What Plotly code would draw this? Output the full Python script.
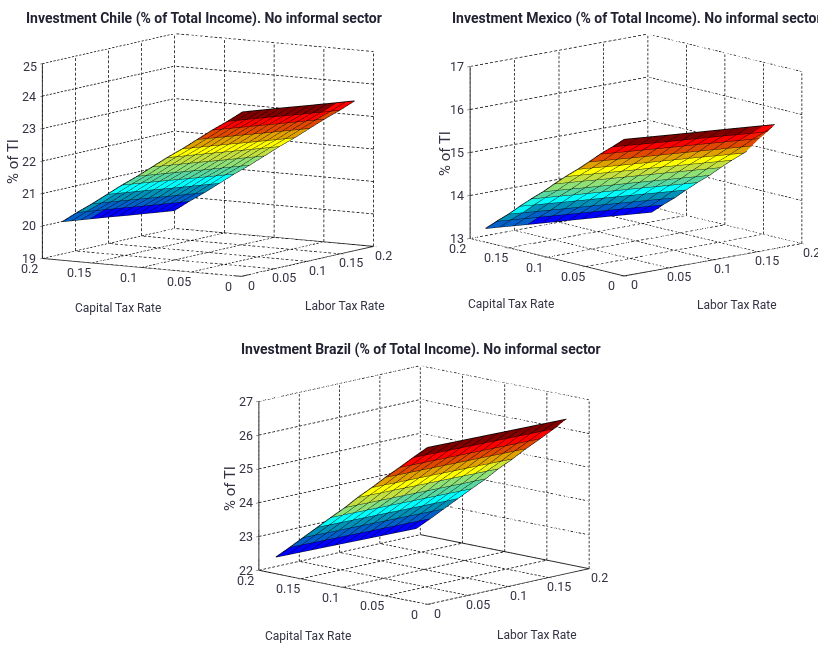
import plotly.graph_objects as go

# tick labels
tax_ticks = [0, 0.05, 0.1, 0.15, 0.2]
chile_z_ticks = [19, 20, 21, 22, 23, 24, 25]
mexico_z_ticks = [13, 14, 15, 16, 17]
brazil_z_ticks = [22, 23, 24, 25, 26, 27]

# Surface corner (labor, capital, % of TI)
chile_origin = [0.0, 0.18, 20.19]
mexico_origin = [0.0, 0.18, 13.32]
brazil_origin = [0.0, 0.18, 22.49]

# Offsets along the mesh rows
chile_labor_along = [0, .011, .022, .033, .044, .055, .066, .077, .088, .099, .11, .121, .132]
chile_capital_along = [0, -.002, -.004, -.006, -.008, -.01, -.0125, -.015, -.017, -.019, -.021, -.023, -.025]
chile_z_along = [0, -.017, -.033, -.05, -.067, -.083, -.1, -.117, -.133, -.15, -.167, -.183, -.2]
mexico_labor_along = [0, .014, .028, .042, .056, .07, .084, .097, .111, .125, .139, .153, .167]
mexico_capital_along = [0, -.002, -.004, -.006, -.008, -.01, -.0115, -.013, -.015, -.017, -.019, -.021, -.023]
mexico_z_along = [0, -.012, -.025, -.038, -.05, -.062, -.075, -.088, -.1, -.112, -.125, -.138, -.15]
brazil_labor_along = [0, .0145, .029, .0435, .058, .0725, .087, .1015, .116, .1305, .145, .1595, .174]
brazil_capital_along = [0, 0, 0, 0, 0, 0, 0, 0, 0, 0, 0, 0, 0]
brazil_z_along = [0, -.006, -.012, -.018, -.023, -.029, -.035, -.041, -.047, -.052, -.058, -.064, -.07]

# Offsets up the mesh columns
chile_labor_up = [0, .006, .011, .017, .023, .028, .034, .04, .045, .051, .057, .062, .068]
chile_capital_up = [0, -.011, -.023, -.034, -.045, -.057, -.068, -.079, -.091, -.102, -.113, -.125, -.136]
chile_z_up = [0, .29, .57, .86, 1.15, 1.43, 1.72, 2.01, 2.29, 2.58, 2.87, 3.15, 3.44]
mexico_labor_up = [0, .004, .008, .012, .016, .02, .024, .028, .032, .036, .04, .044, .0485]
mexico_capital_up = [0, -.01, -.021, -.031, -.041, -.052, -.062, -.072, -.083, -.093, -.103, -.114, -.124]
mexico_z_up = [0, .2, .4, .61, .81, 1.01, 1.22, 1.42, 1.62, 1.82, 2.03, 2.23, 2.43]
brazil_labor_up = [0, .003, .005, .008, .01, .013, .015, .018, .02, .023, .025, .028]
brazil_capital_up = [0, -.014, -.028, -.042, -.056, -.07, -.083, -.097, -.111, -.125, -.139, -.153]
brazil_z_up = [0, .35, .7, 1.06, 1.41, 1.76, 2.11, 2.46, 2.82, 3.17, 3.52, 3.87]

band_colors = ["#0000ff", "#0060c8", "#0090b8", "#00ffff", "#58d8a0", "#90e078",
               "#c4e040", "#ffff00", "#e0a000", "#e04800", "#ff0000", "#800000"]
FONT = "Roboto"
TEXT = "#333344"


def dashed(p0, p1, n):
    """Split one grid line into n short dashes so the dash length stays even on screen."""
    xs, ys, zs = [], [], []
    for i in range(n):
        a, b = i / n, (i + 0.6) / n
        for f in (a, b):
            xs.append(p0[0] + (p1[0] - p0[0]) * f)
            ys.append(p0[1] + (p1[1] - p0[1]) * f)
            zs.append(p0[2] + (p1[2] - p0[2]) * f)
        xs.append(None); ys.append(None); zs.append(None)
    return xs, ys, zs


def panel(fig, scene, origin, along, up, z_ticks):
    lab_a, cap_a, z_a = along
    lab_u, cap_u, z_u = up
    nr, nc = len(lab_u), len(lab_a)
    X = [[origin[0] + lab_u[r] + lab_a[c] for c in range(nc)] for r in range(nr)]
    Y = [[origin[1] + cap_u[r] + cap_a[c] for c in range(nc)] for r in range(nr)]
    Z = [[origin[2] + z_u[r] + z_a[c] for c in range(nc)] for r in range(nr)]
    vx = [v for row in X for v in row]
    vy = [v for row in Y for v in row]
    vz = [v for row in Z for v in row]
    zmin_s, zmax_s = min(vz), max(vz)
    I, J, K, C = [], [], [], []
    for r in range(nr - 1):
        for c in range(nc - 1):
            a, b, d, e = r * nc + c, r * nc + c + 1, (r + 1) * nc + c + 1, (r + 1) * nc + c
            m = (Z[r][c] + Z[r][c + 1] + Z[r + 1][c] + Z[r + 1][c + 1]) / 4
            I += [a, a]; J += [b, d]; K += [d, e]; C += [m, m]
    n = len(band_colors)
    cs = []
    for i, col in enumerate(band_colors):
        cs += [[i / n, col], [(i + 1) / n, col]]
    fig.add_trace(go.Mesh3d(x=vx, y=vy, z=vz, i=I, j=J, k=K, intensity=C, intensitymode="cell",
                            colorscale=cs, cmin=zmin_s, cmax=zmax_s, showscale=False,
                            flatshading=True, hoverinfo="skip",
                            lighting=dict(ambient=1, diffuse=0, specular=0, fresnel=0, roughness=1),
                            scene=scene))
    # mesh edges
    lx, ly, lz = [], [], []
    for r in range(nr):
        lx += X[r] + [None]; ly += Y[r] + [None]; lz += Z[r] + [None]
    for c in range(nc):
        lx += [X[r][c] for r in range(nr)] + [None]
        ly += [Y[r][c] for r in range(nr)] + [None]
        lz += [Z[r][c] for r in range(nr)] + [None]
    fig.add_trace(go.Scatter3d(x=lx, y=ly, z=lz, mode="lines", line=dict(color="black", width=1.6),
                               hoverinfo="skip", showlegend=False, scene=scene))
    # dashed grid on walls and floor
    lo, hi = z_ticks[0], z_ticks[-1]
    gx, gy, gz = [], [], []

    def add(p0, p1, n):
        a, b, c = dashed(p0, p1, n)
        gx.extend(a); gy.extend(b); gz.extend(c)

    for t in tax_ticks:
        add((t, 0, lo), (t, 0.2, lo), 42)
        add((t, 0.2, lo), (t, 0.2, hi), 40)
        add((0, t, lo), (0.2, t, lo), 36)
        add((0.2, t, lo), (0.2, t, hi), 40)
    for t in z_ticks:
        add((0, 0.2, t), (0.2, 0.2, t), 36)
        add((0.2, 0, t), (0.2, 0.2, t), 42)
    fig.add_trace(go.Scatter3d(x=gx, y=gy, z=gz, mode="lines",
                               line=dict(color="#000000", width=1.5),
                               hoverinfo="skip", showlegend=False, scene=scene))
    # solid box edges
    fig.add_trace(go.Scatter3d(x=[0, 0.2, 0.2, None, 0, 0, None, 0, 0],
                               y=[0, 0, 0.2, None, 0, 0.2, None, 0.2, 0.2],
                               z=[lo, lo, lo, None, lo, lo, None, lo, hi], mode="lines",
                               line=dict(color="#333333", width=2),
                               hoverinfo="skip", showlegend=False, scene=scene))


def scene_layout(domain_x, domain_y, eye, aspect, z_ticks, z_labels):
    def ax(rng, ticks):
        return dict(range=rng, tickvals=ticks, ticktext=[f"{t:g}" for t in ticks], showgrid=False,
                    zeroline=False, showbackground=False, showline=False, ticks="outside", ticklen=4,
                    tickcolor="#333333", showticklabels=False, title=dict(text=""), showspikes=False)

    def tick(x, y, z, text, xs, ys):
        return dict(x=x, y=y, z=z, text=text, showarrow=False, xshift=xs, yshift=ys, xanchor="center",
                    yanchor="middle", font=dict(family=FONT, size=12.5, color=TEXT))
    lo = z_ticks[0]
    notes = [tick(0, 0.2, t, f"{t:g}", -13, 0) for t in z_labels]
    notes += [tick(t, 0, lo, f"{t:g}", 10, -9) for t in tax_ticks]
    notes += [tick(0, t, lo, f"{t:g}", -13, -10) for t in tax_ticks]
    return dict(domain=dict(x=domain_x, y=domain_y),
                xaxis=ax([0, 0.2], tax_ticks), yaxis=ax([0, 0.2], tax_ticks),
                zaxis=ax([z_ticks[0], z_ticks[-1]], z_ticks), annotations=notes,
                aspectmode="manual", aspectratio=dict(x=aspect[0], y=aspect[1], z=aspect[2]),
                camera=dict(projection=dict(type="orthographic"), center=dict(x=0, y=0, z=0),
                            up=dict(x=0, y=0, z=1), eye=dict(x=eye[0], y=eye[1], z=eye[2])))


W, H = 818, 645
fig = go.Figure()
panel(fig, "scene", chile_origin, (chile_labor_along, chile_capital_along, chile_z_along),
      (chile_labor_up, chile_capital_up, chile_z_up), chile_z_ticks)
panel(fig, "scene2", mexico_origin, (mexico_labor_along, mexico_capital_along, mexico_z_along),
      (mexico_labor_up, mexico_capital_up, mexico_z_up), mexico_z_ticks)
panel(fig, "scene3", brazil_origin, (brazil_labor_along, brazil_capital_along, brazil_z_along),
      (brazil_labor_up, brazil_capital_up, brazil_z_up), brazil_z_ticks)


def dom(cx, cy, hw=200, hh=155):
    return [max(0, (cx - hw) / W), min(1, (cx + hw) / W)], [max(0, 1 - (cy + hh) / H), min(1, 1 - (cy - hh) / H)]


dx, dy = dom(208, 155)
s1 = scene_layout(dx, dy, [-.838, -.528, .143], [1.60, 1.517, 1.27], chile_z_ticks, chile_z_ticks[:-1])
dx, dy = dom(636, 155, hw=182)
s2 = scene_layout(dx, dy, [-.640, -.739, .211], [1.517, 1.517, 1.135], mexico_z_ticks, mexico_z_ticks)
dx, dy = dom(424, 485)
s3 = scene_layout(dx, dy, [-.706, -.675, .211], [1.507, 1.507, 1.115], brazil_z_ticks, brazil_z_ticks)


def label(text, px, py, size=13, bold=False, angle=0):
    return dict(text=f"<b>{text}</b>" if bold else text, x=px / W, y=1 - py / H, xref="paper", yref="paper",
                showarrow=False, textangle=angle, font=dict(family=FONT, size=size, color="#222233" if bold else TEXT),
                xanchor="center", yanchor="middle")


annotations = [
    label("Investment Chile (% of Total Income). No informal sector", 204, 18, 14, True),
    label("Investment Mexico (% of Total Income). No informal sector", 637, 18, 14, True),
    label("Investment Brazil (% of Total Income). No informal sector", 421, 349, 14, True),
    label("Capital Tax Rate", 118, 308, 12),
    label("Labor Tax Rate", 345, 306, 12),
    label("Capital Tax Rate", 511, 304, 12),
    label("Labor Tax Rate", 737, 305, 12),
    label("Capital Tax Rate", 308, 636, 12),
    label("Labor Tax Rate", 537, 635, 12),
    label("% of TI", 13, 162, 15, False, -90),
    label("% of TI", 445, 154, 15, False, -90),
    label("% of TI", 230, 489, 15, False, -90),
    label(f"{chile_z_ticks[-1]}", 30, 66, 12.5),
]

fig.update_layout(width=W, height=H, margin=dict(l=0, r=0, t=0, b=0), showlegend=False,
                  paper_bgcolor="white", scene=s1, scene2=s2, scene3=s3, annotations=annotations)
fig.write_html("out.html", post_script="document.body.style.margin='0';", config=dict(displayModeBar=False))
